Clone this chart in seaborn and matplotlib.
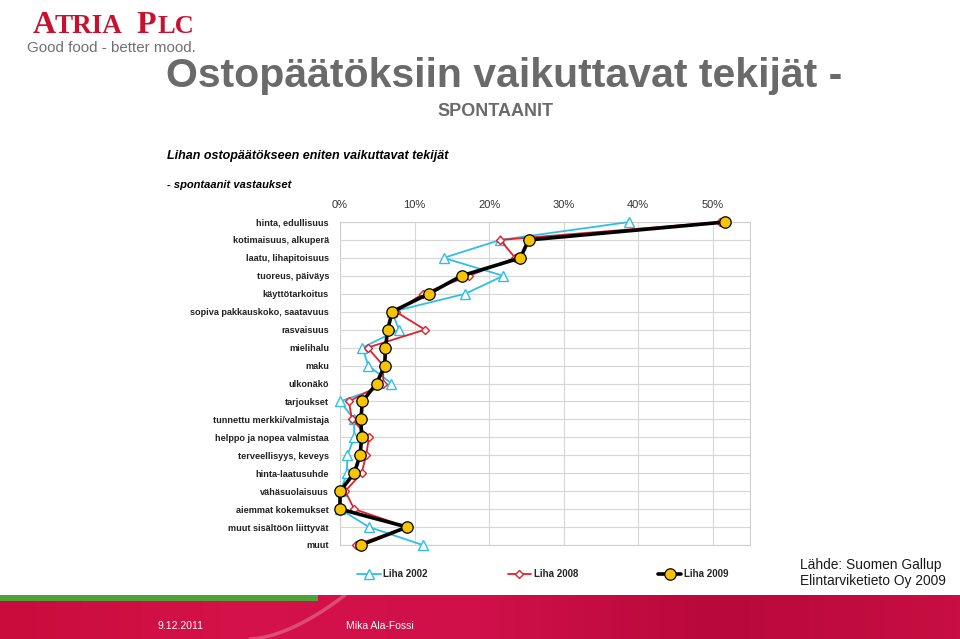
import numpy as np
import pandas as pd
import matplotlib
matplotlib.use("Agg")
import matplotlib.pyplot as plt
import seaborn as sns
from matplotlib.patches import Rectangle
from matplotlib.colors import LinearSegmentedColormap
from matplotlib.font_manager import FontProperties

# ---------------- data ----------------
categories = [
    "hinta, edullisuus", "kotimaisuus, alkuperä", "laatu, lihapitoisuus",
    "tuoreus, päiväys", "käyttötarkoitus", "sopiva pakkauskoko, saatavuus",
    "rasvaisuus", "mielihalu", "maku", "ulkonäkö", "tarjoukset",
    "tunnettu merkki/valmistaja", "helppo ja nopea valmistaa",
    "terveellisyys, keveys", "hinta-laatusuhde", "vähäsuolaisuus",
    "aiemmat kokemukset", "muut sisältöön liittyvät", "muut",
]
liha_2002 = [38.8, 21.5, 13.9, 21.9, 16.8, 7.0, 7.9, 3.0, 3.8, 6.9, 0.0, 1.9, 1.9, 1.0, 0.9, 0.1, 0.0, 3.9, 11.1]
liha_2008 = [51.0, 21.5, 23.5, 17.3, 11.1, 7.5, 11.4, 3.7, 5.8, 5.8, 1.2, 1.6, 3.9, 3.5, 2.9, 0.7, 1.9, 9.0, 2.1]
liha_2009 = [51.7, 25.3, 24.2, 16.3, 11.9, 7.0, 6.4, 6.1, 6.0, 4.9, 3.0, 2.8, 2.9, 2.7, 1.9, 0.0, 0.0, 9.0, 2.8]
series_names = ["Liha 2002", "Liha 2008", "Liha 2009"]
x_ticks = [0.0, 0.1, 0.2, 0.3, 0.4, 0.5]
x_tick_labels = ["0%", "10%", "20%", "30%", "40%", "50%"]

# ---------------- style ----------------
sns.set_style("white")
plt.rcParams["font.family"] = ["Liberation Sans", "DejaVu Sans"]

W, H = 960, 639
fig = plt.figure(figsize=(W / 100, H / 100), dpi=100)
fig.patch.set_facecolor("white")

def fx(px):
    return px / W

def fy(py):
    return 1 - py / H

ax = fig.add_axes([fx(340), (H - 545) / H, 410 / W, 323 / H])

pos = np.arange(len(categories))
df = pd.DataFrame({
    "kategoria": categories * 3,
    "pos": np.concatenate([pos, pos, pos]),
    "osuus": np.array(liha_2002 + liha_2008 + liha_2009) / 100.0,
    "sarja": np.repeat(series_names, len(categories)),
})

styles = {
    "Liha 2002": dict(color="#2EC0E4", linewidth=1.3, marker="^", markersize=6.5,
                      markerfacecolor="white", markeredgecolor="#2EC0E4",
                      markeredgewidth=1.0, zorder=3),
    "Liha 2008": dict(color="#E0202C", linewidth=1.3, marker="D", markersize=4.2,
                      markerfacecolor="white", markeredgecolor="#E0202C",
                      markeredgewidth=1.0, zorder=4),
    "Liha 2009": dict(color="black", linewidth=2.6, marker="o", markersize=8.2,
                      markerfacecolor="#F7C400", markeredgecolor="black",
                      markeredgewidth=0.9, zorder=5),
}

for name in series_names:
    sub = df[df["sarja"] == name]
    sns.lineplot(data=sub, x="osuus", y="pos", orient="y", sort=False,
                 errorbar=None, ax=ax, label=name, clip_on=False, **styles[name])

ax.set_xlim(0, 0.55)
ax.set_ylim(len(categories) - 1, 0)
ax.xaxis.tick_top()
ax.set_xticks(x_ticks)
ax.set_xticklabels(x_tick_labels, fontsize=8, color="#333333")
ax.set_yticks(pos)
ax.set_yticklabels(categories, fontsize=6.6, fontweight="bold", color="#222222")
ax.tick_params(axis="both", length=0)
ax.tick_params(axis="y", pad=8)
ax.tick_params(axis="x", pad=9)
ax.set_xlabel("")
ax.set_ylabel("")
ax.grid(True, color="#D6D6D6", linewidth=0.8)
ax.set_axisbelow(True)
for sp in ax.spines.values():
    sp.set_color("#D0D0D0")
    sp.set_linewidth(0.8)

handles, labels = ax.get_legend_handles_labels()
if ax.get_legend() is not None:
    ax.get_legend().remove()
fig.legend(handles, labels, ncol=3, loc="center", bbox_to_anchor=(fx(543), fy(574)),
           frameon=False, prop=FontProperties(family="Liberation Sans", weight="bold", size=7),
           handlelength=2.4, handletextpad=0.3, columnspacing=8.2)

# ---------------- texts ----------------
fig.text(fx(166), fy(87), "Ostopäätöksiin vaikuttavat tekijät -", fontsize=29.5,
         fontweight="bold", color="#6A6A6A", ha="left", va="baseline")
fig.text(fx(437), fy(116), "SPONTAANIT", fontsize=13, fontweight="bold",
         color="#6A6A6A", ha="left", va="baseline")
fig.text(fx(167), fy(159), "Lihan ostopäätökseen eniten vaikuttavat tekijät",
         fontsize=9, fontweight="bold", fontstyle="italic", color="black",
         ha="left", va="baseline")
fig.text(fx(167), fy(188), "- spontaanit vastaukset", fontsize=8,
         fontweight="bold", fontstyle="italic", color="black", ha="left", va="baseline")
fig.text(fx(800), fy(569), "Lähde: Suomen Gallup", fontsize=9.9, color="#1A1A1A",
         ha="left", va="baseline")
fig.text(fx(800), fy(585), "Elintarviketieto Oy 2009", fontsize=9.9, color="#1A1A1A",
         ha="left", va="baseline")

# logo
red_logo = "#C4122F"
serif = ["Liberation Serif", "DejaVu Serif"]
fig.text(fx(33), fy(33), "A", fontsize=23, fontweight="bold", color=red_logo,
         family=serif, ha="left", va="baseline")
fig.text(fx(55), fy(33), "TRIA", fontsize=19.5, fontweight="bold", color=red_logo,
         family=serif, ha="left", va="baseline")
fig.text(fx(136), fy(33), "P", fontsize=23, fontweight="bold", color=red_logo,
         family=serif, ha="left", va="baseline")
fig.text(fx(157), fy(33), "LC", fontsize=19, fontweight="bold", color=red_logo,
         family=serif, ha="left", va="baseline")
fig.text(fx(27), fy(52), "Good food - better mood.", fontsize=10.9, color="#707070",
         ha="left", va="baseline")

# ---------------- footer ----------------
fax = fig.add_axes([0, 0, 1, 44 / H])
fax.set_axis_off()
cmap = LinearSegmentedColormap.from_list("ft", ["#C90C3C", "#D51249", "#D0104A", "#B8093A", "#C80E42"])
grad = np.linspace(0, 1, 256).reshape(1, -1)
fax.imshow(grad, cmap=cmap, aspect="auto", extent=[0, W, 0, 44])
tt = np.linspace(0, 1, 50)
fax.plot(250 + 95 * tt ** 0.6, 44 * tt, color="white", alpha=0.25, linewidth=2.5)
fax.add_patch(Rectangle((0, 38), 318, 6, color="#4FA23A", linewidth=0))
fax.set_xlim(0, W)
fax.set_ylim(0, 44)
fig.text(fx(180), fy(626), "9.12.2011", fontsize=7.5, color="white",
         ha="center", va="center")
fig.text(fx(380), fy(626), "Mika Ala-Fossi", fontsize=7.5, color="white",
         ha="center", va="center")

fig.savefig("out.png", dpi=100, facecolor="white")
